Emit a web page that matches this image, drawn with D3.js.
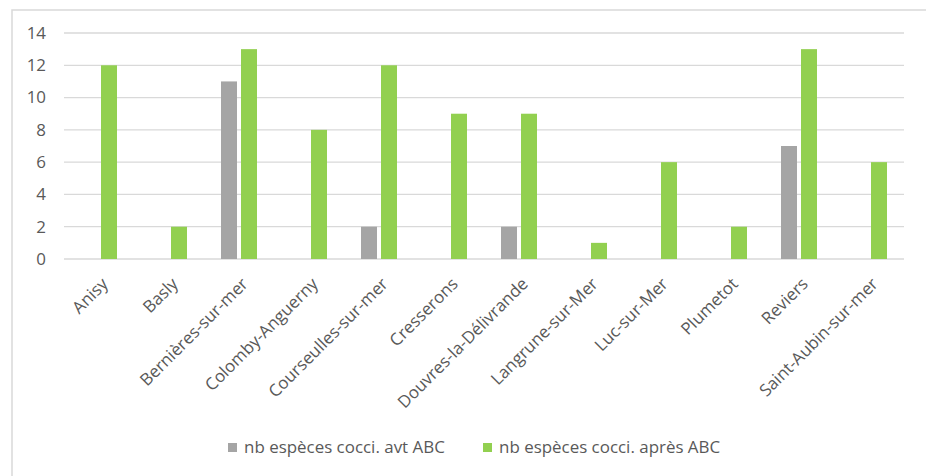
<!DOCTYPE html>
<html><head><meta charset="utf-8">
<script src="https://cdn.jsdelivr.net/npm/d3@7"></script>
<style>
html,body{margin:0;padding:0;background:#fff;}
svg{display:block;}
</style></head>
<body>
<script>
const categories = ["Anisy","Basly","Bernières-sur-mer","Colomby-Anguerny","Courseulles-sur-mer","Cresserons","Douvres-la-Délivrande","Langrune-sur-Mer","Luc-sur-Mer","Plumetot","Reviers","Saint-Aubin-sur-mer"];
const seriesNames = ["nb espèces cocci. avt ABC","nb espèces cocci. après ABC"];
const avant = [0,0,11,0,2,0,2,0,0,0,7,0];
const apres = [12,2,13,8,12,9,9,1,6,2,13,6];
const yTicks = [0,2,4,6,8,10,12,14];
const colors = ["#A5A5A5","#92D050"];

const W = 926, H = 476;
const FONT = "'Open Sans', sans-serif";
const svg = d3.select("body").append("svg").attr("width",W).attr("height",H);

// chart area border
svg.append("rect").attr("x",12).attr("y",10).attr("width",930).attr("height",480)
  .attr("fill","#fff").attr("stroke","#D9D9D9").attr("stroke-width",1.5);

// measure font to fit Calibri-like widths
const probe = svg.append("text").style("font-family",FONT).style("font-size","20px").text(seriesNames[0]);
const w20 = probe.node().getComputedTextLength();
probe.remove();
const fs = Math.max(10, Math.min(20, 20*201/w20));

const plot = {left:64, right:904, top:33, bottom:259};
const x0 = d3.scaleBand().domain(categories).range([plot.left, plot.right]);
const x1 = d3.scaleBand().domain(seriesNames).range([x0.bandwidth()/2-20, x0.bandwidth()/2+20]).paddingInner(0.2).paddingOuter(0.1);
const y = d3.scaleLinear().domain([0,14]).range([plot.bottom, plot.top]);

// gridlines
svg.append("g").selectAll("line").data(yTicks).join("line")
  .attr("x1",plot.left).attr("x2",plot.right)
  .attr("y1",d=>y(d)).attr("y2",d=>y(d))
  .attr("stroke","#D9D9D9").attr("stroke-width",1.3);

// y axis labels
const yAxis = d3.axisLeft(y).tickValues(yTicks).tickSize(0).tickPadding(0).tickFormat(d3.format("d"));
const ya = svg.append("g").attr("transform",`translate(${plot.left-18},0)`).call(yAxis);
ya.select(".domain").remove();
ya.selectAll("text").style("font-family",FONT).style("font-size",fs+"px").attr("fill","#595959");

// bars
const rows = categories.map((c,i)=>({cat:c, vals:[avant[i],apres[i]]}));
const g = svg.append("g").selectAll("g").data(rows).join("g")
  .attr("transform",d=>`translate(${x0(d.cat)},0)`);
g.selectAll("rect").data(d=>d.vals.map((v,j)=>({s:seriesNames[j],v,j}))).join("rect")
  .attr("x",d=>x1(d.s)).attr("width",x1.bandwidth())
  .attr("y",d=>y(d.v)).attr("height",d=>y(0)-y(d.v))
  .attr("fill",d=>colors[d.j]);

// x axis labels
const xAxis = d3.axisBottom(x0).tickSize(0).tickPadding(0);
const xa = svg.append("g").attr("transform",`translate(0,${plot.bottom})`).call(xAxis);
xa.select(".domain").remove();
xa.selectAll("text")
  .style("font-family",FONT).style("font-size",fs+"px").attr("fill","#595959")
  .attr("text-anchor","end").attr("dy",null).attr("y",null)
  .attr("transform","translate(10,26) rotate(-45)");

// legend
const legX = [228, 483];
const leg = svg.append("g").selectAll("g").data(seriesNames).join("g")
  .attr("transform",(d,i)=>`translate(${legX[i]},443)`);
leg.append("rect").attr("width",9).attr("height",9).attr("fill",(d,i)=>colors[i]);
leg.append("text").attr("x",16).attr("y",9.5).text(d=>d)
  .style("font-family",FONT).style("font-size",fs+"px").attr("fill","#595959");
</script>
</body></html>
